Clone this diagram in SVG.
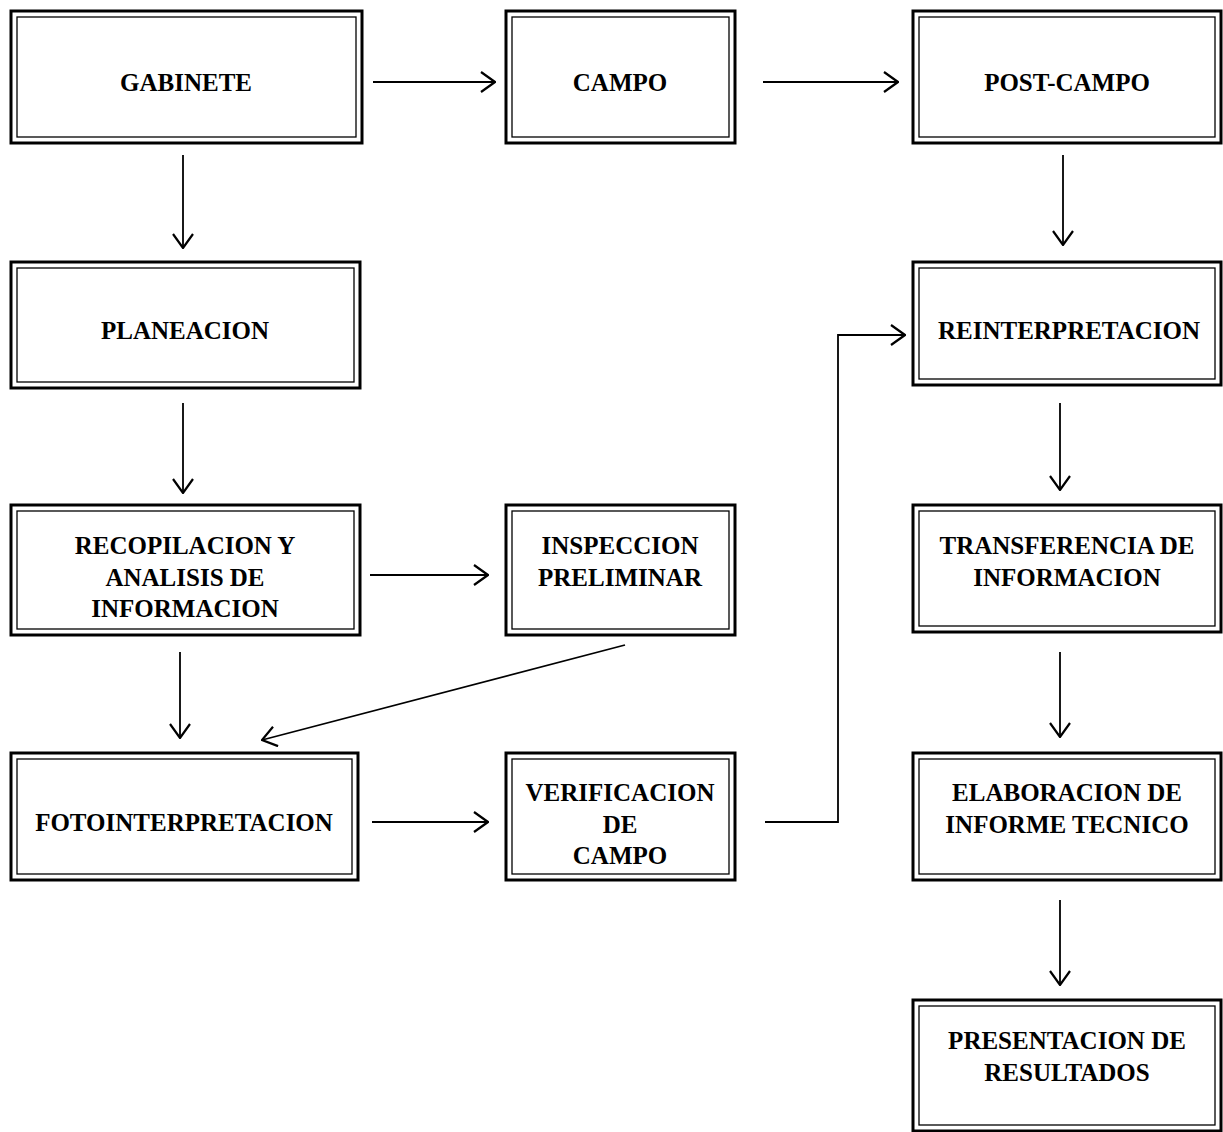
<svg xmlns="http://www.w3.org/2000/svg" width="1223" height="1132" viewBox="0 0 1223 1132">
<style>
.outer{fill:none;stroke:#000;stroke-width:3}
.inner{fill:none;stroke:#000;stroke-width:1.3}
.t{font-family:"Liberation Serif","Times New Roman",serif;font-size:25px;font-weight:bold;text-anchor:middle;fill:#000}
.c{fill:none;stroke:#000;stroke-width:1.8}
</style>
<defs>
<marker id="ah" viewBox="0 0 16 22" refX="15" refY="11" markerWidth="16" markerHeight="22" markerUnits="userSpaceOnUse" orient="auto">
<path d="M1,1 L15,11 L1,21" fill="none" stroke="#000" stroke-width="2.2"/>
</marker>
</defs>
<rect width="1223" height="1132" fill="#fff"/>
<g id="gabinete"><rect class="outer" x="11" y="11" width="351" height="132"/><rect class="inner" x="17" y="17" width="339" height="120"/><text class="t" x="186" y="91">GABINETE</text></g>
<g id="campo"><rect class="outer" x="506" y="11" width="229" height="132"/><rect class="inner" x="512" y="17" width="217" height="120"/><text class="t" x="620" y="91">CAMPO</text></g>
<g id="postcampo"><rect class="outer" x="913" y="11" width="308" height="132"/><rect class="inner" x="919" y="17" width="296" height="120"/><text class="t" x="1067" y="91">POST-CAMPO</text></g>
<g id="planeacion"><rect class="outer" x="11" y="262" width="349" height="126"/><rect class="inner" x="17" y="268" width="337" height="114"/><text class="t" x="185" y="339">PLANEACION</text></g>
<g id="recopilacion"><rect class="outer" x="11" y="505" width="349" height="130"/><rect class="inner" x="17" y="511" width="337" height="118"/><text class="t" x="185" y="554">RECOPILACION Y</text><text class="t" x="185" y="586">ANALISIS DE</text><text class="t" x="185" y="617">INFORMACION</text></g>
<g id="inspeccion"><rect class="outer" x="506" y="505" width="229" height="130"/><rect class="inner" x="512" y="511" width="217" height="118"/><text class="t" x="620" y="554">INSPECCION</text><text class="t" x="620" y="586">PRELIMINAR</text></g>
<g id="fotointerpretacion"><rect class="outer" x="11" y="753" width="347" height="127"/><rect class="inner" x="17" y="759" width="335" height="115"/><text class="t" x="184" y="831">FOTOINTERPRETACION</text></g>
<g id="verificacion"><rect class="outer" x="506" y="753" width="229" height="127"/><rect class="inner" x="512" y="759" width="217" height="115"/><text class="t" x="620" y="801">VERIFICACION</text><text class="t" x="620" y="833">DE</text><text class="t" x="620" y="864">CAMPO</text></g>
<g id="reinterpretacion"><rect class="outer" x="913" y="262" width="308" height="123"/><rect class="inner" x="919" y="268" width="296" height="111"/><text class="t" x="1069" y="339">REINTERPRETACION</text></g>
<g id="transferencia"><rect class="outer" x="913" y="505" width="308" height="127"/><rect class="inner" x="919" y="511" width="296" height="115"/><text class="t" x="1067" y="554">TRANSFERENCIA DE</text><text class="t" x="1067" y="586">INFORMACION</text></g>
<g id="elaboracion"><rect class="outer" x="913" y="753" width="308" height="127"/><rect class="inner" x="919" y="759" width="296" height="115"/><text class="t" x="1067" y="801">ELABORACION DE</text><text class="t" x="1067" y="833">INFORME TECNICO</text></g>
<g id="presentacion"><rect class="outer" x="913" y="1000" width="308" height="131"/><rect class="inner" x="919" y="1006" width="296" height="119"/><text class="t" x="1067" y="1049">PRESENTACION DE</text><text class="t" x="1067" y="1081">RESULTADOS</text></g>
<g id="connectors">
<line class="c" x1="373" y1="82" x2="495" y2="82" marker-end="url(#ah)"/>
<line class="c" x1="763" y1="82" x2="898" y2="82" marker-end="url(#ah)"/>
<line class="c" x1="183" y1="155" x2="183" y2="248" marker-end="url(#ah)"/>
<line class="c" x1="183" y1="403" x2="183" y2="493" marker-end="url(#ah)"/>
<line class="c" x1="370" y1="575" x2="488" y2="575" marker-end="url(#ah)"/>
<line class="c" x1="180" y1="652" x2="180" y2="738" marker-end="url(#ah)"/>
<line class="c" x1="625" y1="645" x2="262" y2="740" marker-end="url(#ah)"/>
<line class="c" x1="372" y1="822" x2="488" y2="822" marker-end="url(#ah)"/>
<polyline class="c" points="765,822 838,822 838,335 905,335" marker-end="url(#ah)"/>
<line class="c" x1="1063" y1="155" x2="1063" y2="245" marker-end="url(#ah)"/>
<line class="c" x1="1060" y1="403" x2="1060" y2="490" marker-end="url(#ah)"/>
<line class="c" x1="1060" y1="652" x2="1060" y2="737" marker-end="url(#ah)"/>
<line class="c" x1="1060" y1="900" x2="1060" y2="985" marker-end="url(#ah)"/>
</g>
</svg>
